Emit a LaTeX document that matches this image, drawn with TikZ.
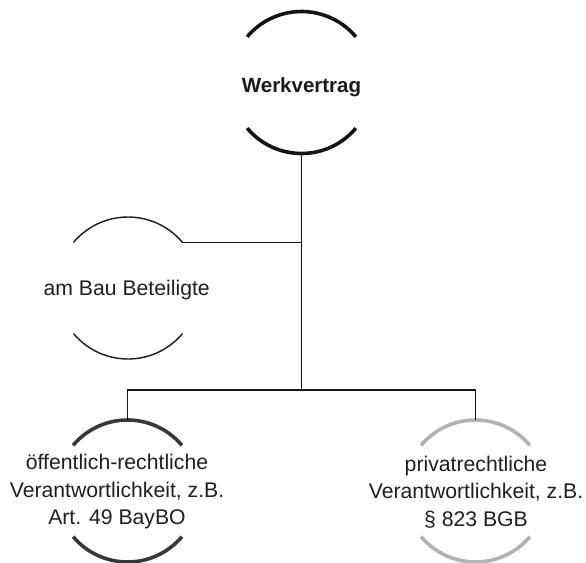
\documentclass[tikz,border=0pt]{standalone}
\usepackage{fontspec}
\setmainfont{Liberation Sans}
\usetikzlibrary{calc}
\tikzset{
  lbl/.style={inner sep=0pt, align=center, font=\fontsize{21.2}{27.5}\selectfont, text=black!88},
  toplbl/.style={inner sep=0pt, font=\fontsize{20.5}{24}\selectfont\bfseries, text=black!90},
  arcA/.style={line width=3.6pt, black!92},
  arcB/.style={line width=1.4pt, black!90},
  arcC/.style={line width=3.6pt, black!78},
  arcD/.style={line width=3.6pt, black!30},
  conn/.style={line width=1.7pt, black!92}
}
\begin{document}
\begin{tikzpicture}[x=1pt,y=1pt]
\useasboundingbox (0,0) rectangle (586,-562);
% centres of the arc pairs
\coordinate (cT) at (301.5,-82.5);
\coordinate (cL) at (128,-288);
\coordinate (cBL) at (127.5,-491);
\coordinate (cBR) at (475.5,-491);
% labels
\node[toplbl, anchor=base] (tT) at (301.5,-92.5) {Werkvertrag};
\node[lbl, anchor=base] (tL) at (126.7,-295) {am Bau Beteiligte};
\node[lbl] (tBL) at (117,-492) {öffentlich-rechtliche\\Verantwortlichkeit, z.B.\\Art. 49 BayBO};
\node[lbl] (tBR) at (476,-492) {privatrechtliche\\Verantwortlichkeit, z.B.\\§ 823 BGB};
% arcs
\foreach \c/\s in {cT/arcA, cL/arcB, cBL/arcC, cBR/arcD}{
  \draw[\s] ($(\c)+(40:71pt)$) arc[start angle=40, end angle=140, radius=71pt];
  \draw[\s] ($(\c)+(220:71pt)$) arc[start angle=220, end angle=320, radius=71pt];
}
% connector points
\coordinate (tTb) at ($(cT)+(0,-71pt)$);
\coordinate (lRe) at ($(cL)+(40:71pt)$);
\coordinate (bLt) at ($(cBL)+(0,71pt)$);
\coordinate (bRt) at ($(cBR)+(0,71pt)$);
\coordinate (jL) at (tTb |- lRe);
\coordinate (jB) at (301.5,-390);
\coordinate (hL) at (bLt |- jB);
\coordinate (hR) at (bRt |- jB);
% connectors
\draw[conn] (tTb) -- (jB);
\draw[conn] (lRe) -- (jL);
\draw[conn] (bLt) -- (hL) -- (hR) -- (bRt);
\end{tikzpicture}
\end{document}
